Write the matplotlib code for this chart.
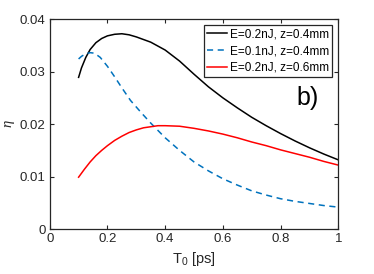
import matplotlib
matplotlib.use('Agg')
import matplotlib.pyplot as plt

plt.rcParams['font.family'] = ['Liberation Sans', 'DejaVu Sans']
plt.rcParams['mathtext.fontset'] = 'custom'
plt.rcParams['mathtext.it'] = 'Liberation Serif:italic'
plt.rcParams['mathtext.rm'] = 'Liberation Sans'

# T0 [ps] and efficiency
t_black = [0.10, 0.11, 0.125, 0.14, 0.16, 0.18, 0.20, 0.225, 0.25, 0.275, 0.30, 0.35, 0.40, 0.45,
           0.50, 0.55, 0.60, 0.65, 0.70, 0.75, 0.80, 0.85, 0.90, 0.95, 1.00]
eta_black = [0.0289, 0.0307, 0.0327, 0.0342, 0.0355, 0.0363, 0.0368, 0.0371, 0.0372, 0.0370, 0.0366, 0.0356, 0.0341, 0.0320,
             0.0295, 0.0271, 0.0250, 0.0231, 0.0213, 0.0197, 0.0182, 0.0168, 0.0155, 0.0143, 0.0132]

t_blue = [0.10, 0.11, 0.125, 0.14, 0.155, 0.175, 0.20, 0.225, 0.25, 0.28, 0.32, 0.35, 0.40, 0.45, 0.50,
          0.55, 0.60, 0.65, 0.70, 0.75, 0.80, 0.85, 0.90, 0.95, 1.00]
eta_blue = [0.0324, 0.0329, 0.0334, 0.0336, 0.0335, 0.0327, 0.0310, 0.0290, 0.0269, 0.0245, 0.0220, 0.0202, 0.0174, 0.0150, 0.0128,
            0.0111, 0.0096, 0.0084, 0.0073, 0.0065, 0.0058, 0.0053, 0.0049, 0.0045, 0.0042]

t_red = [0.10, 0.12, 0.14, 0.16, 0.18, 0.20, 0.225, 0.25, 0.275, 0.30, 0.325, 0.35, 0.375, 0.40, 0.45, 0.50,
         0.55, 0.60, 0.65, 0.70, 0.75, 0.80, 0.85, 0.90, 0.95, 1.00]
eta_red = [0.0099, 0.0114, 0.0128, 0.0140, 0.0150, 0.0159, 0.0169, 0.0177, 0.0184, 0.0189, 0.0193, 0.0195, 0.0197, 0.0197, 0.0196, 0.0192,
           0.0187, 0.0181, 0.0174, 0.0166, 0.0159, 0.0151, 0.0144, 0.0137, 0.0129, 0.0122]

labels = ['E=0.2nJ, z=0.4mm', 'E=0.1nJ, z=0.4mm', 'E=0.2nJ, z=0.6mm']
xticks = [0, 0.2, 0.4, 0.6, 0.8, 1]
yticks = [0, 0.01, 0.02, 0.03, 0.04]

axcol = '#262626'

fig = plt.figure(figsize=(3.74, 2.74), dpi=100)
ax = fig.add_axes([0.133, 0.1635, 0.7715, 0.767])

ax.plot(t_black, eta_black, color='black', lw=1.1, label=labels[0])
ax.plot(t_blue, eta_blue, color='#0072BD', lw=1.1, ls=(0, (4, 3)), label=labels[1])
ax.plot(t_red, eta_red, color='red', lw=1.1, label=labels[2])

ax.set_xlim(0, 1)
ax.set_ylim(0, 0.04)
ax.set_xticks(xticks)
ax.set_xticklabels(['0', '0.2', '0.4', '0.6', '0.8', '1'])
ax.set_yticks(yticks)
ax.set_yticklabels(['0', '0.01', '0.02', '0.03', '0.04'])
ax.tick_params(direction='in', top=True, right=True, length=3, width=0.8,
               labelsize=9.5, colors=axcol, pad=3)
for s in ax.spines.values():
    s.set_color(axcol)
    s.set_linewidth(0.9)

ax.set_xlabel(r'T$_0$ [ps]', fontsize=10.5, color=axcol, labelpad=3)
ax.set_ylabel(r'$\eta$', fontsize=10.5, color=axcol, labelpad=2)

ax.text(0.895, 0.025, 'b)', fontsize=18, ha='center', va='center', color='black')

leg = ax.legend(loc='upper right', fontsize=8.5, handlelength=1.7, handletextpad=0.2,
                borderpad=0.3, labelspacing=0.4, borderaxespad=0.5, fancybox=False,
                framealpha=1, edgecolor=axcol)
leg.get_frame().set_linewidth(0.9)

fig.savefig('out.png', dpi=100)
